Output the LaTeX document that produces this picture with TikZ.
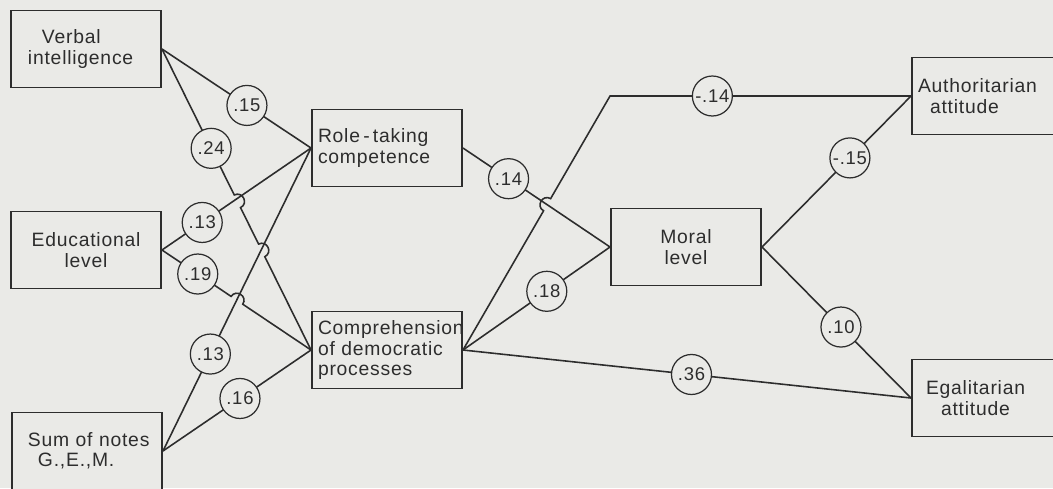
\documentclass[tikz,border=0pt]{standalone}
\usepackage{fontspec}
\setmainfont[LetterSpace=4]{Liberation Sans}
\usepackage{tikz}
\usetikzlibrary{calc}
\definecolor{paper}{RGB}{234,234,231}
\definecolor{ink}{RGB}{45,45,45}

\begin{document}
\begin{tikzpicture}[x=0.2mm, y=-0.2mm,
        box/.style={draw=ink, line width=1.1pt, fill=paper, text=ink, minimum width=30mm, minimum height=15.4mm,
            inner xsep=1.2mm, text width=27.6mm, align=left, font=\fontsize{11}{11.6}\selectfont},
        coef/.style={draw=ink, line width=0.7pt, circle, fill=paper, text=ink, minimum size=8mm, inner sep=0pt,
            font=\fontsize{10.5}{12}\selectfont},
        link/.style={draw=ink, line width=0.9pt},
        hop/.style={bend left=90, looseness=1.7}]
        \path[use as bounding box, fill=paper] (0,0) rectangle (1053,488);
        \clip (0,0) rectangle (1053,488);

        \node[box] (verbal) at (86,49) {\hspace*{5mm}Verbal\\\hspace*{2.2mm}intelligence};
        \node[box, align=center] (edu) at (86,250) {Educational\\level};
        \node[box] (sum) at (87,451) {\hspace*{2mm}Sum of notes\\\hspace*{4mm}G.,E.,M.};
        \node[box] (role) at (387,148) {Role\,-\,taking\\competence};
        \node[box] (comp) at (387,350) {Comprehension\\of democratic\\processes};
        \node[box, align=center] (moral) at (686,247) {Moral\\level};
        \node[box] (auth) at (987,96) {Authoritarian\\\hspace*{2.4mm}attitude};
        \node[box] (egal) at (987,398) {\hspace*{1.6mm}Egalitarian\\\hspace*{4.6mm}attitude};
        \coordinate (knee) at (moral.west |- auth.west);

        \draw[link] (verbal.east) -- (role.west);
        \draw[link] (verbal.east) -- ($(verbal.east)!0.485!(comp.west)$) to[hop] ($(verbal.east)!0.527!(comp.west)$)
            -- ($(verbal.east)!0.648!(comp.west)$) to[hop] ($(verbal.east)!0.690!(comp.west)$) -- (comp.west);
        \draw[link] (edu.east) -- (role.west);
        \draw[link] (edu.east) -- ($(edu.east)!0.464!(comp.west)$) to[hop] ($(edu.east)!0.542!(comp.west)$) -- (comp.west);
        \draw[link] (sum.east) -- (role.west);
        \draw[link] (sum.east) -- (comp.west);
        \draw[link] (role.east) -- (moral.west);
        \draw[link] (comp.east) -- (moral.west);
        \draw[link] (comp.east) -- ($(comp.east)!0.548!(knee)$) to[hop] ($(comp.east)!0.596!(knee)$) -- (knee) -- (auth.west);
        \draw[link] (comp.east) -- (egal.west);
        \draw[link] (moral.east) -- (auth.west);
        \draw[link] (moral.east) -- (egal.west);

        \node[coef] (v15) at ($(verbal.east)!0.57!(role.west)$) {.15};
        \node[coef] (v24) at ($(verbal.east)!0.33!(comp.west)$) {.24};
        \node[coef] (e13) at ($(edu.east)!0.27!(role.west)$) {.13};
        \node[coef] (e19) at ($(edu.east)!0.24!(comp.west)$) {.19};
        \node[coef] (s13) at ($(sum.east)!0.32!(role.west)$) {.13};
        \node[coef] (s16) at ($(sum.east)!0.52!(comp.west)$) {.16};
        \node[coef] (r14) at ($(role.east)!0.31!(moral.west)$) {.14};
        \node[coef] (c18) at ($(comp.east)!0.57!(moral.west)$) {.18};
        \node[coef] (c14) at ($(knee)!0.34!(auth.west)$) {-.14};
        \node[coef] (c36) at ($(comp.east)!0.51!(egal.west)$) {.36};
        \node[coef] (m15) at ($(moral.east)!0.59!(auth.west)$) {-.15};
        \node[coef] (m10) at ($(moral.east)!0.53!(egal.west)$) {.10};
\end{tikzpicture}
\end{document}
